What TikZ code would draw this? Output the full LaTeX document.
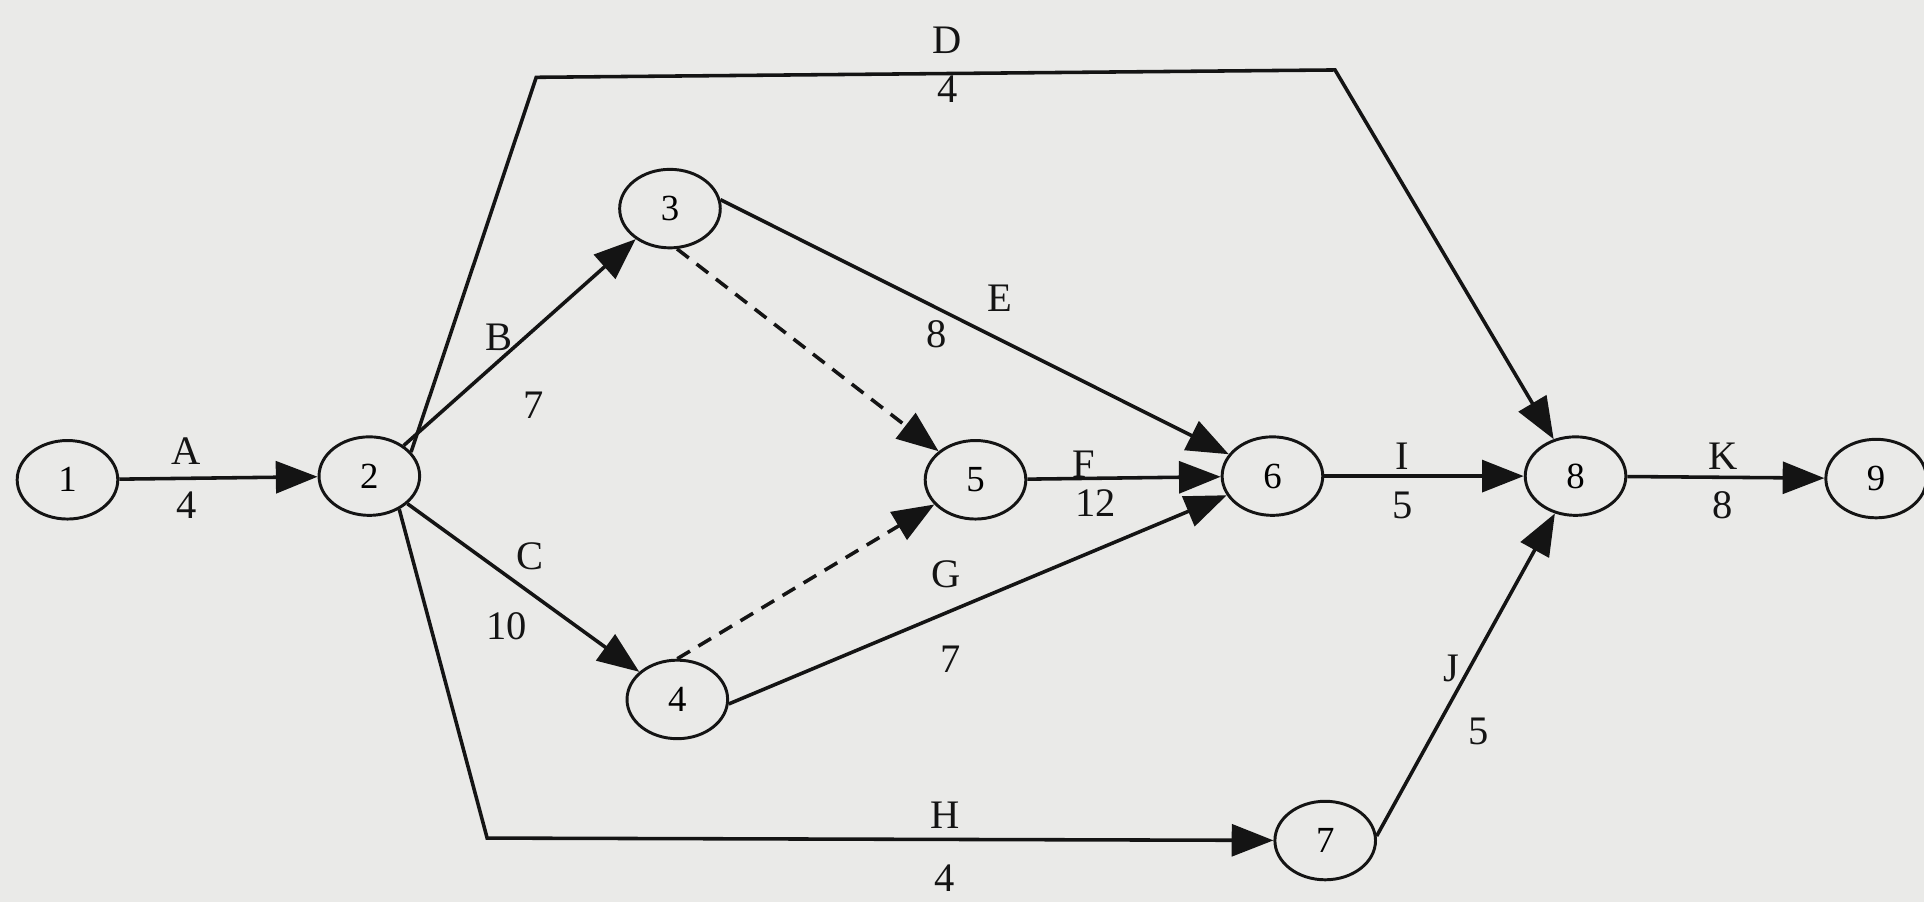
\documentclass[tikz,border=0pt]{standalone}
\usepackage{fontspec}
\setmainfont{Liberation Serif}
\usetikzlibrary{shapes.geometric,arrows.meta}

\begin{document}
\begin{tikzpicture}[x=0.5pt,y=-0.5pt,
  evento/.style={draw=ink, ellipse, line width=1.2pt, minimum width=41pt,
    minimum height=32pt, inner sep=0pt, font=\fontsize{15}{17}\selectfont},
  att/.style={draw=ink, line width=1.45pt, -{Triangle[length=17pt,width=13pt]}},
  fitt/.style={att, dash pattern=on 6pt off 4pt},
  etic/.style={font=\fontsize{16.5}{19}\selectfont, inner sep=0pt, text=ink}]

% Colori
\definecolor{paper}{HTML}{EAEAE8}
\definecolor{ink}{HTML}{141414}

% Sfondo
\fill[paper] (0,0) rectangle (1568,735);
\useasboundingbox (0,0) rectangle (1568,735);

% Eventi
\node[evento] (n1) at (55,391)   {1};
\node[evento] (n2) at (301,388)  {2};
\node[evento] (n3) at (546,170)  {3};
\node[evento] (n4) at (552,570)  {4};
\node[evento] (n5) at (795,391)  {5};
\node[evento] (n6) at (1037,388) {6};
\node[evento] (n7) at (1080,685) {7};
\node[evento] (n8) at (1284,388) {8};
\node[evento] (n9) at (1529,390) {9};

% Punti d'angolo di D e H
\coordinate (dA) at (437,63);
\coordinate (dB) at (1088,57);
\coordinate (hA) at (397,683);

% Attivita
\draw[att] (n1) -- (n2);
\draw[att] (n2.30) -- (dA) -- (dB) -- (n8);
\draw[att] (n2) -- (n3);
\draw[att] (n2) -- (n4);
\draw[att] (n2.-48) -- (hA) -- (n7);
\draw[att] (n3.10) -- (n6);
\draw[att] (n5) -- (n6);
\draw[att] (n4.-5) -- (n6);
\draw[att] (n6) -- (n8);
\draw[att] (n7.5) -- (n8);
\draw[att] (n8) -- (n9);

% Attivita fittizie
\draw[fitt] (n3.-80) -- (n5);
\draw[fitt] (n4.north) -- (n5);

% Etichette: lettera e durata
\node[etic] (lA) at (152,368)  {A};  \node[etic] (tA) at (152,412)  {4};
\node[etic] (lD) at (772,33)   {D};  \node[etic] (tD) at (772,73)   {4};
\node[etic] (lB) at (407,275)  {B};  \node[etic] (tB) at (435,330)  {7};
\node[etic] (lC) at (432,453)  {C};  \node[etic] (tC) at (413,510)  {10};
\node[etic] (lE) at (815,243)  {E};  \node[etic] (tE) at (763,272)  {8};
\node[etic] (lF) at (883,378)  {F};  \node[etic] (tF) at (893,410)  {12};
\node[etic] (lG) at (771,468)  {G};  \node[etic] (tG) at (775,537)  {7};
\node[etic] (lH) at (770,664)  {H};  \node[etic] (tH) at (770,716)  {4};
\node[etic] (lI) at (1143,372) {I};  \node[etic] (tI) at (1143,412) {5};
\node[etic] (lJ) at (1183,545) {J};  \node[etic] (tJ) at (1205,596) {5};
\node[etic] (lK) at (1404,372) {K};  \node[etic] (tK) at (1404,412) {8};

\end{tikzpicture}
\end{document}
